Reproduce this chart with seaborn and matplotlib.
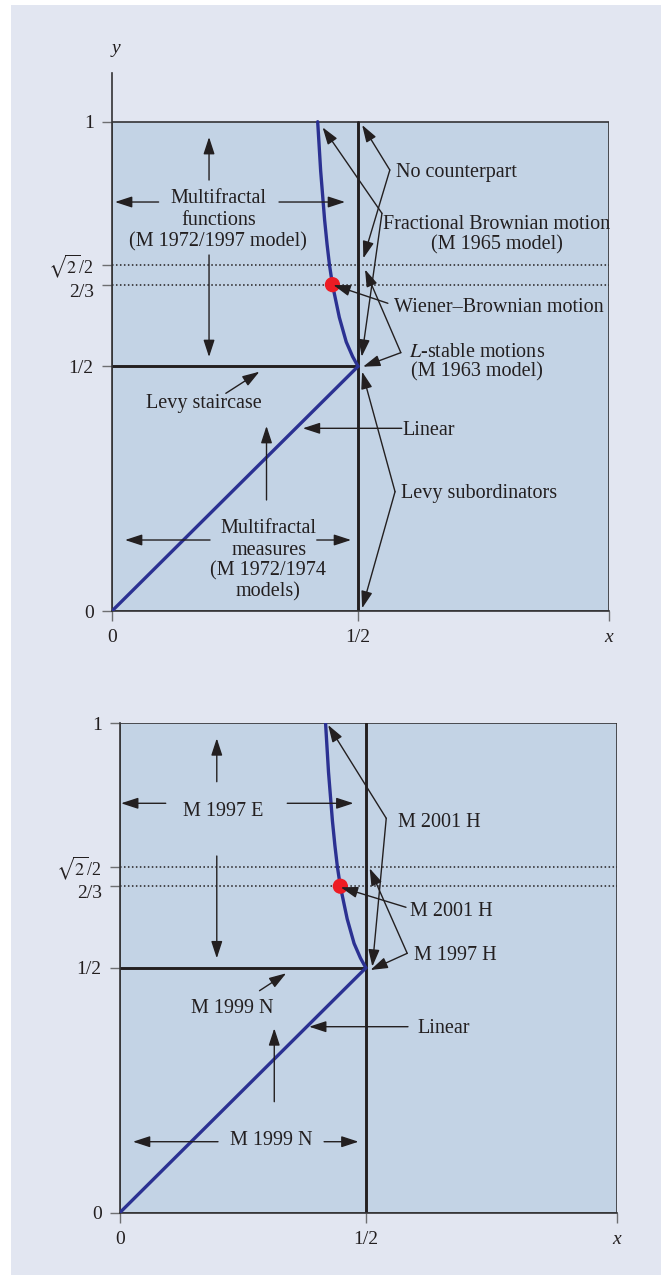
import matplotlib
matplotlib.use("Agg")
import matplotlib.pyplot as plt
from matplotlib.patches import Rectangle
from matplotlib.transforms import ScaledTranslation
import seaborn as sns
import pandas as pd

sns.set_theme(style="white")
plt.rcParams["font.family"] = ["Liberation Serif", "DejaVu Serif"]
plt.rcParams["mathtext.fontset"] = "stix"

# ---------------- data ----------------
fbm_x = [0.500, 0.489, 0.476, 0.462, 0.448, 0.442, 0.437, 0.432, 0.428, 0.424, 0.421, 0.418]
fbm_y = [0.500, 0.520, 0.550, 0.600, 0.667, 0.707, 0.750, 0.800, 0.850, 0.900, 0.950, 1.000]
linear_x = [0.0, 0.5]
linear_y = [0.0, 0.5]
staircase_x = [0.0, 0.5]
staircase_y = [0.5, 0.5]
vertical_x = [0.5, 0.5]
vertical_y = [0.0, 1.0]
wiener_x = [0.448]
wiener_y = [0.667]
dotted_levels = [0.667, 0.7071]
ytick_vals = [0.0, 0.5, 0.667, 0.7071, 1.0]
ytick_labels = ["0", "1/2", "2/3", r"$\sqrt{2}$/2", "1"]
xtick_vals = [0.0, 0.5, 1.01]
xtick_labels = ["0", "1/2", "x"]
X_MAX = 1.01

top_texts = [
    (0.2165, 0.8426, "Multifractal", "center"),
    (0.2165, 0.7985, "functions", "center"),
    (0.2155, 0.7541, "(M 1972/1997 model)", "center"),
    (0.3185, 0.1682, "Multifractal", "center"),
    (0.3185, 0.1241, "measures", "center"),
    (0.3175, 0.0811, "(M 1972/1974", "center"),
    (0.3175, 0.0388, "models)", "center"),
    (0.186, 0.4237, "Levy staircase", "center"),
    (0.591, 0.3693, "Linear", "left"),
    (0.5864, 0.2397, "Levy subordinators", "left"),
    (0.7419, 0.5293, r"$L$-stable motions", "center"),
    (0.7419, 0.4885, "(M 1963 model)", "center"),
    (0.7817, 0.7895, "Fractional Brownian motion", "center"),
    (0.7817, 0.7474, "(M 1965 model)", "center"),
    (0.5766, 0.8972, "No counterpart", "left"),
    (0.5732, 0.6213, "Wiener\u2013Brownian motion", "left"),
]
top_arrows = [
    ((0.0947, 0.8359), (0.0061, 0.8359)),
    ((0.3394, 0.8359), (0.4736, 0.8359)),
    ((0.1972, 0.8808), (0.1972, 0.9687)),
    ((0.1972, 0.7276), (0.1972, 0.5191)),
    ((0.1992, 0.1451), (0.0264, 0.1451)),
    ((0.4161, 0.1451), (0.4858, 0.1451)),
    ((0.3140, 0.2269), (0.3140, 0.3781)),
    ((0.2313, 0.4449), (0.2996, 0.4891)),
    ((0.5888, 0.3734), (0.3878, 0.3734)),
    ((0.5752, 0.2438), (0.5083, 0.4891)),
    ((0.5752, 0.2438), (0.5083, 0.0055)),
    ((0.5870, 0.5280), (0.5142, 0.6980)),
    ((0.5870, 0.5280), (0.5102, 0.4993)),
    ((0.5486, 0.8128), (0.4280, 0.9885)),
    ((0.5486, 0.8128), (0.5075, 0.5197)),
    ((0.5646, 0.9013), (0.5083, 0.9933)),
    ((0.5646, 0.9013), (0.5108, 0.7208)),
    ((0.5606, 0.6289), (0.4498, 0.6663)),
]
bottom_texts = [
    (0.2107, 0.8201, "M 1997 E", "center"),
    (0.5654, 0.7982, "M 2001 H", "left"),
    (0.5897, 0.6157, "M 2001 H", "left"),
    (0.5978, 0.5258, "M 1997 H", "left"),
    (0.2288, 0.4180, "M 1999 N", "center"),
    (0.6041, 0.3757, "Linear", "left"),
    (0.3067, 0.1476, "M 1999 N", "center"),
]
bottom_arrows = [
    ((0.0930, 0.8365), (0.0022, 0.8365)),
    ((0.3401, 0.8365), (0.4747, 0.8365)),
    ((0.1968, 0.8806), (0.1968, 0.9693)),
    ((0.1968, 0.7287), (0.1968, 0.5196)),
    ((0.5414, 0.8058), (0.4232, 0.9965)),
    ((0.5414, 0.8058), (0.5131, 0.5025)),
    ((0.5815, 0.6239), (0.4488, 0.6648)),
    ((0.5840, 0.5298), (0.5076, 0.7036)),
    ((0.5840, 0.5298), (0.5093, 0.4957)),
    ((0.2837, 0.4534), (0.3379, 0.4890)),
    ((0.5856, 0.3798), (0.3845, 0.3798)),
    ((0.1993, 0.1447), (0.0263, 0.1447)),
    ((0.4150, 0.1447), (0.4850, 0.1447)),
    ((0.3137, 0.2265), (0.3137, 0.3765)),
]

# ---------------- styles ----------------
INK = "#231f20"
BLUE = "#2b3192"
RED = "#ed1c24"
BOX = "#c3d3e5"
PAGE = "#e2e6f1"
EDGE = "#333335"
TICK = "#6d6e71"
FS = 14.5

fig = plt.figure(figsize=(6.64, 12.75), dpi=100, facecolor="white")
fig.patches.append(Rectangle((11 / 664, 0.0), 650 / 664, 1270 / 1275,
                             transform=fig.transFigure, facecolor=PAGE,
                             edgecolor="none", zorder=-10))

ax_top = fig.add_axes([112 / 664, (1275 - 611) / 1275, 497 / 664, 538.2 / 1275])
ax_bot = fig.add_axes([120 / 664, (1275 - 1212.5) / 1275, 496.7 / 664, 489.2 / 1275])


def draw_panel(ax, ymax, texts, arrows):
    ax.set_facecolor("none")
    ax.add_patch(Rectangle((0, 0), X_MAX, 1.0, facecolor=BOX, edgecolor=EDGE,
                           lw=1.2, zorder=0))
    for lvl in dotted_levels:
        ax.axhline(lvl, color=INK, lw=1.1, ls=(0, (1, 1.6)), zorder=1)
    stair = pd.DataFrame({"x": staircase_x, "y": staircase_y})
    vert = pd.DataFrame({"x": vertical_x, "y": vertical_y})
    sns.lineplot(data=stair, x="x", y="y", estimator=None, sort=False,
                 color=INK, lw=2.1, ax=ax, zorder=2)
    sns.lineplot(data=vert, x="x", y="y", estimator=None, sort=False,
                 color=INK, lw=2.1, ax=ax, zorder=2)
    lin = pd.DataFrame({"x": linear_x, "y": linear_y})
    fbm = pd.DataFrame({"x": fbm_x, "y": fbm_y})
    sns.lineplot(data=lin, x="x", y="y", estimator=None, sort=False,
                 color=BLUE, lw=2.4, ax=ax, zorder=3)
    sns.lineplot(data=fbm, x="x", y="y", estimator=None, sort=False,
                 color=BLUE, lw=2.4, ax=ax, zorder=3)
    sns.scatterplot(x=wiener_x, y=wiener_y, color=RED, s=120, edgecolor="none",
                    ax=ax, zorder=4)
    for (x, y, s, ha) in texts:
        ax.text(x, y, s, ha=ha, va="center", fontsize=FS, color=INK, zorder=6)
    for (start, end) in arrows:
        ax.annotate("", xy=end, xytext=start, annotation_clip=False,
                    arrowprops=dict(arrowstyle="-|>,head_length=0.52,head_width=0.17",
                                    color=INK, lw=1.0, shrinkA=0, shrinkB=0,
                                    mutation_scale=20), zorder=5)
    ax.set_xlim(0, X_MAX)
    ax.set_ylim(0, ymax)
    ax.set_xticks(xtick_vals)
    ax.set_xticklabels(xtick_labels)
    ax.get_xticklabels()[2].set_fontstyle("italic")
    ax.set_yticks(ytick_vals)
    ax.set_yticklabels(ytick_labels)
    ax.set_xlabel("")
    ax.set_ylabel("")
    ax.tick_params(bottom=True, left=True, direction="out", length=7.2,
                   width=1.0, color=TICK, labelsize=14, labelcolor=INK, pad=6)
    # nudge the two crowded labels apart, as in the original
    ylabels = ax.get_yticklabels()
    ylabels[2].set_transform(ylabels[2].get_transform()
                             + ScaledTranslation(0, -4 / 72, fig.dpi_scale_trans))
    ylabels[3].set_transform(ylabels[3].get_transform()
                             + ScaledTranslation(0, 1.5 / 72, fig.dpi_scale_trans))
    ylabels[3].set_fontsize(13)
    for side in ["top", "right"]:
        ax.spines[side].set_visible(False)
    for side in ["left", "bottom"]:
        ax.spines[side].set_color(EDGE)
        ax.spines[side].set_linewidth(1.2)


draw_panel(ax_top, 1.1, top_texts, top_arrows)
draw_panel(ax_bot, 1.0, bottom_texts, bottom_arrows)
ax_top.text(0.008, 1.150, "y", ha="center", va="center", fontsize=14,
            fontstyle="italic", color=INK, clip_on=False)

fig.savefig("out.png", dpi=100, facecolor="white")
